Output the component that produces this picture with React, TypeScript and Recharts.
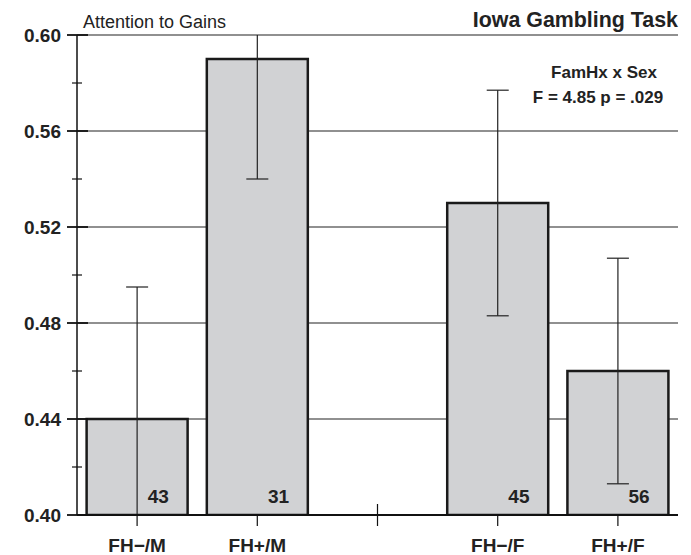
import { BarChart, Bar, XAxis, YAxis, CartesianGrid, ErrorBar, LabelList } from 'recharts';

const groups = ['FH−/M', 'FH+/M', '', 'FH−/F', 'FH+/F'];
const means = [0.44, 0.59, null, 0.53, 0.46];
const errors = [0.055, 0.05, null, 0.047, 0.047];
const counts = [43, 31, null, 45, 56];

const majorTicks = [0.4, 0.44, 0.48, 0.52, 0.56, 0.6];
const minorTicks = [0.42, 0.46, 0.5, 0.54, 0.58];

const data = groups.map((g, i) => ({ group: g, mean: means[i], err: errors[i], n: counts[i] }));
const allTicks = [...majorTicks, ...minorTicks].sort((a, b) => a - b);

const FONT = '"Liberation Sans", Arial, Helvetica, sans-serif';

// plot area box, used only to clip error bars that run past the axis range
const PLOT = { x: 77, y: 35, w: 601, h: 481 };

const YTick = (props: any) => {
  const { x, y, payload } = props;
  const isMajor = majorTicks.some((t) => Math.abs(t - payload.value) < 1e-6);
  if (!isMajor) {
    return <line x1={x - 5} x2={x + 5} y1={y} y2={y} stroke="#111" strokeWidth={1.2} />;
  }
  return (
    <g>
      <line x1={x - 10} x2={x + 11} y1={y} y2={y} stroke="#111" strokeWidth={1.8} />
      <text x={x - 16} y={y + 7} textAnchor="end" fontFamily={FONT} fontWeight="bold" fontSize={19} fill="#222">
        {Number(payload.value).toFixed(2)}
      </text>
    </g>
  );
};

const XTick = (props: any) => {
  const { x, y, payload } = props;
  const empty = payload.value === '';
  return (
    <g>
      <line x1={x} x2={x} y1={empty ? y - 11 : y} y2={y + 11} stroke="#111" strokeWidth={1.2} />
      {!empty && (
        <text x={x} y={y + 37} textAnchor="middle" fontFamily={FONT} fontWeight="bold" fontSize={19} fill="#222">
          {payload.value}
        </text>
      )}
    </g>
  );
};

const CountLabel = (props: any) => {
  const { x, y, width, height, value } = props;
  if (value == null) return null;
  return (
    <text x={x + width * 0.71} y={y + height - 12} textAnchor="middle" fontFamily={FONT} fontWeight="bold" fontSize={19} fill="#222">
      {value}
    </text>
  );
};

export default function App() {
  return (
    <div style={{ position: 'absolute', left: 0, top: 0, width: 691, height: 555, background: '#fff' }}>
      <style>{`.recharts-errorBars, .recharts-errorBar { clip-path: url(#plotClip); }`}</style>
      <svg width={0} height={0} style={{ position: 'absolute' }}>
        <defs>
          <clipPath id="plotClip" clipPathUnits="userSpaceOnUse">
            <rect x={PLOT.x} y={PLOT.y} width={PLOT.w} height={PLOT.h} />
          </clipPath>
        </defs>
      </svg>
      <BarChart
        width={691}
        height={555}
        data={data}
        margin={{ top: 35, right: 13, left: 17, bottom: 0 }}
        barCategoryGap="8%"
      >
        <CartesianGrid vertical={false} horizontalValues={majorTicks} stroke="#222" strokeWidth={1.2} />
        <XAxis
          dataKey="group"
          height={40}
          interval={0}
          tickSize={0}
          tickMargin={0}
          tick={<XTick />}
          axisLine={{ stroke: '#111', strokeWidth: 1.8 }}
          tickLine={false}
        />
        <YAxis
          width={60}
          domain={[0.4, 0.6]}
          allowDataOverflow
          ticks={allTicks}
          interval={0}
          tickSize={0}
          tickMargin={0}
          tick={<YTick />}
          axisLine={{ stroke: '#111', strokeWidth: 1.5 }}
          tickLine={false}
        />
        <Bar dataKey="mean" fill="#d1d2d4" stroke="#1a1a1a" strokeWidth={2.5} isAnimationActive={false}>
          <ErrorBar dataKey="err" width={11} stroke="#222" strokeWidth={1.2} />
          <LabelList dataKey="n" content={<CountLabel />} />
        </Bar>
      </BarChart>
      <svg width={691} height={555} style={{ position: 'absolute', left: 0, top: 0, pointerEvents: 'none' }}>
        <text x={83} y={28} fontFamily={FONT} fontSize={18} fill="#222">Attention to Gains</text>
        <text x={678} y={27} textAnchor="end" fontFamily={FONT} fontWeight="bold" fontSize={21.4} fill="#222">Iowa Gambling Task</text>
        <text x={604} y={78} textAnchor="middle" fontFamily={FONT} fontWeight="bold" fontSize={17} fill="#222">FamHx x Sex</text>
        <text x={598} y={103} textAnchor="middle" fontFamily={FONT} fontWeight="bold" fontSize={17} fill="#222">F = 4.85 p = .029</text>
      </svg>
    </div>
  );
}
